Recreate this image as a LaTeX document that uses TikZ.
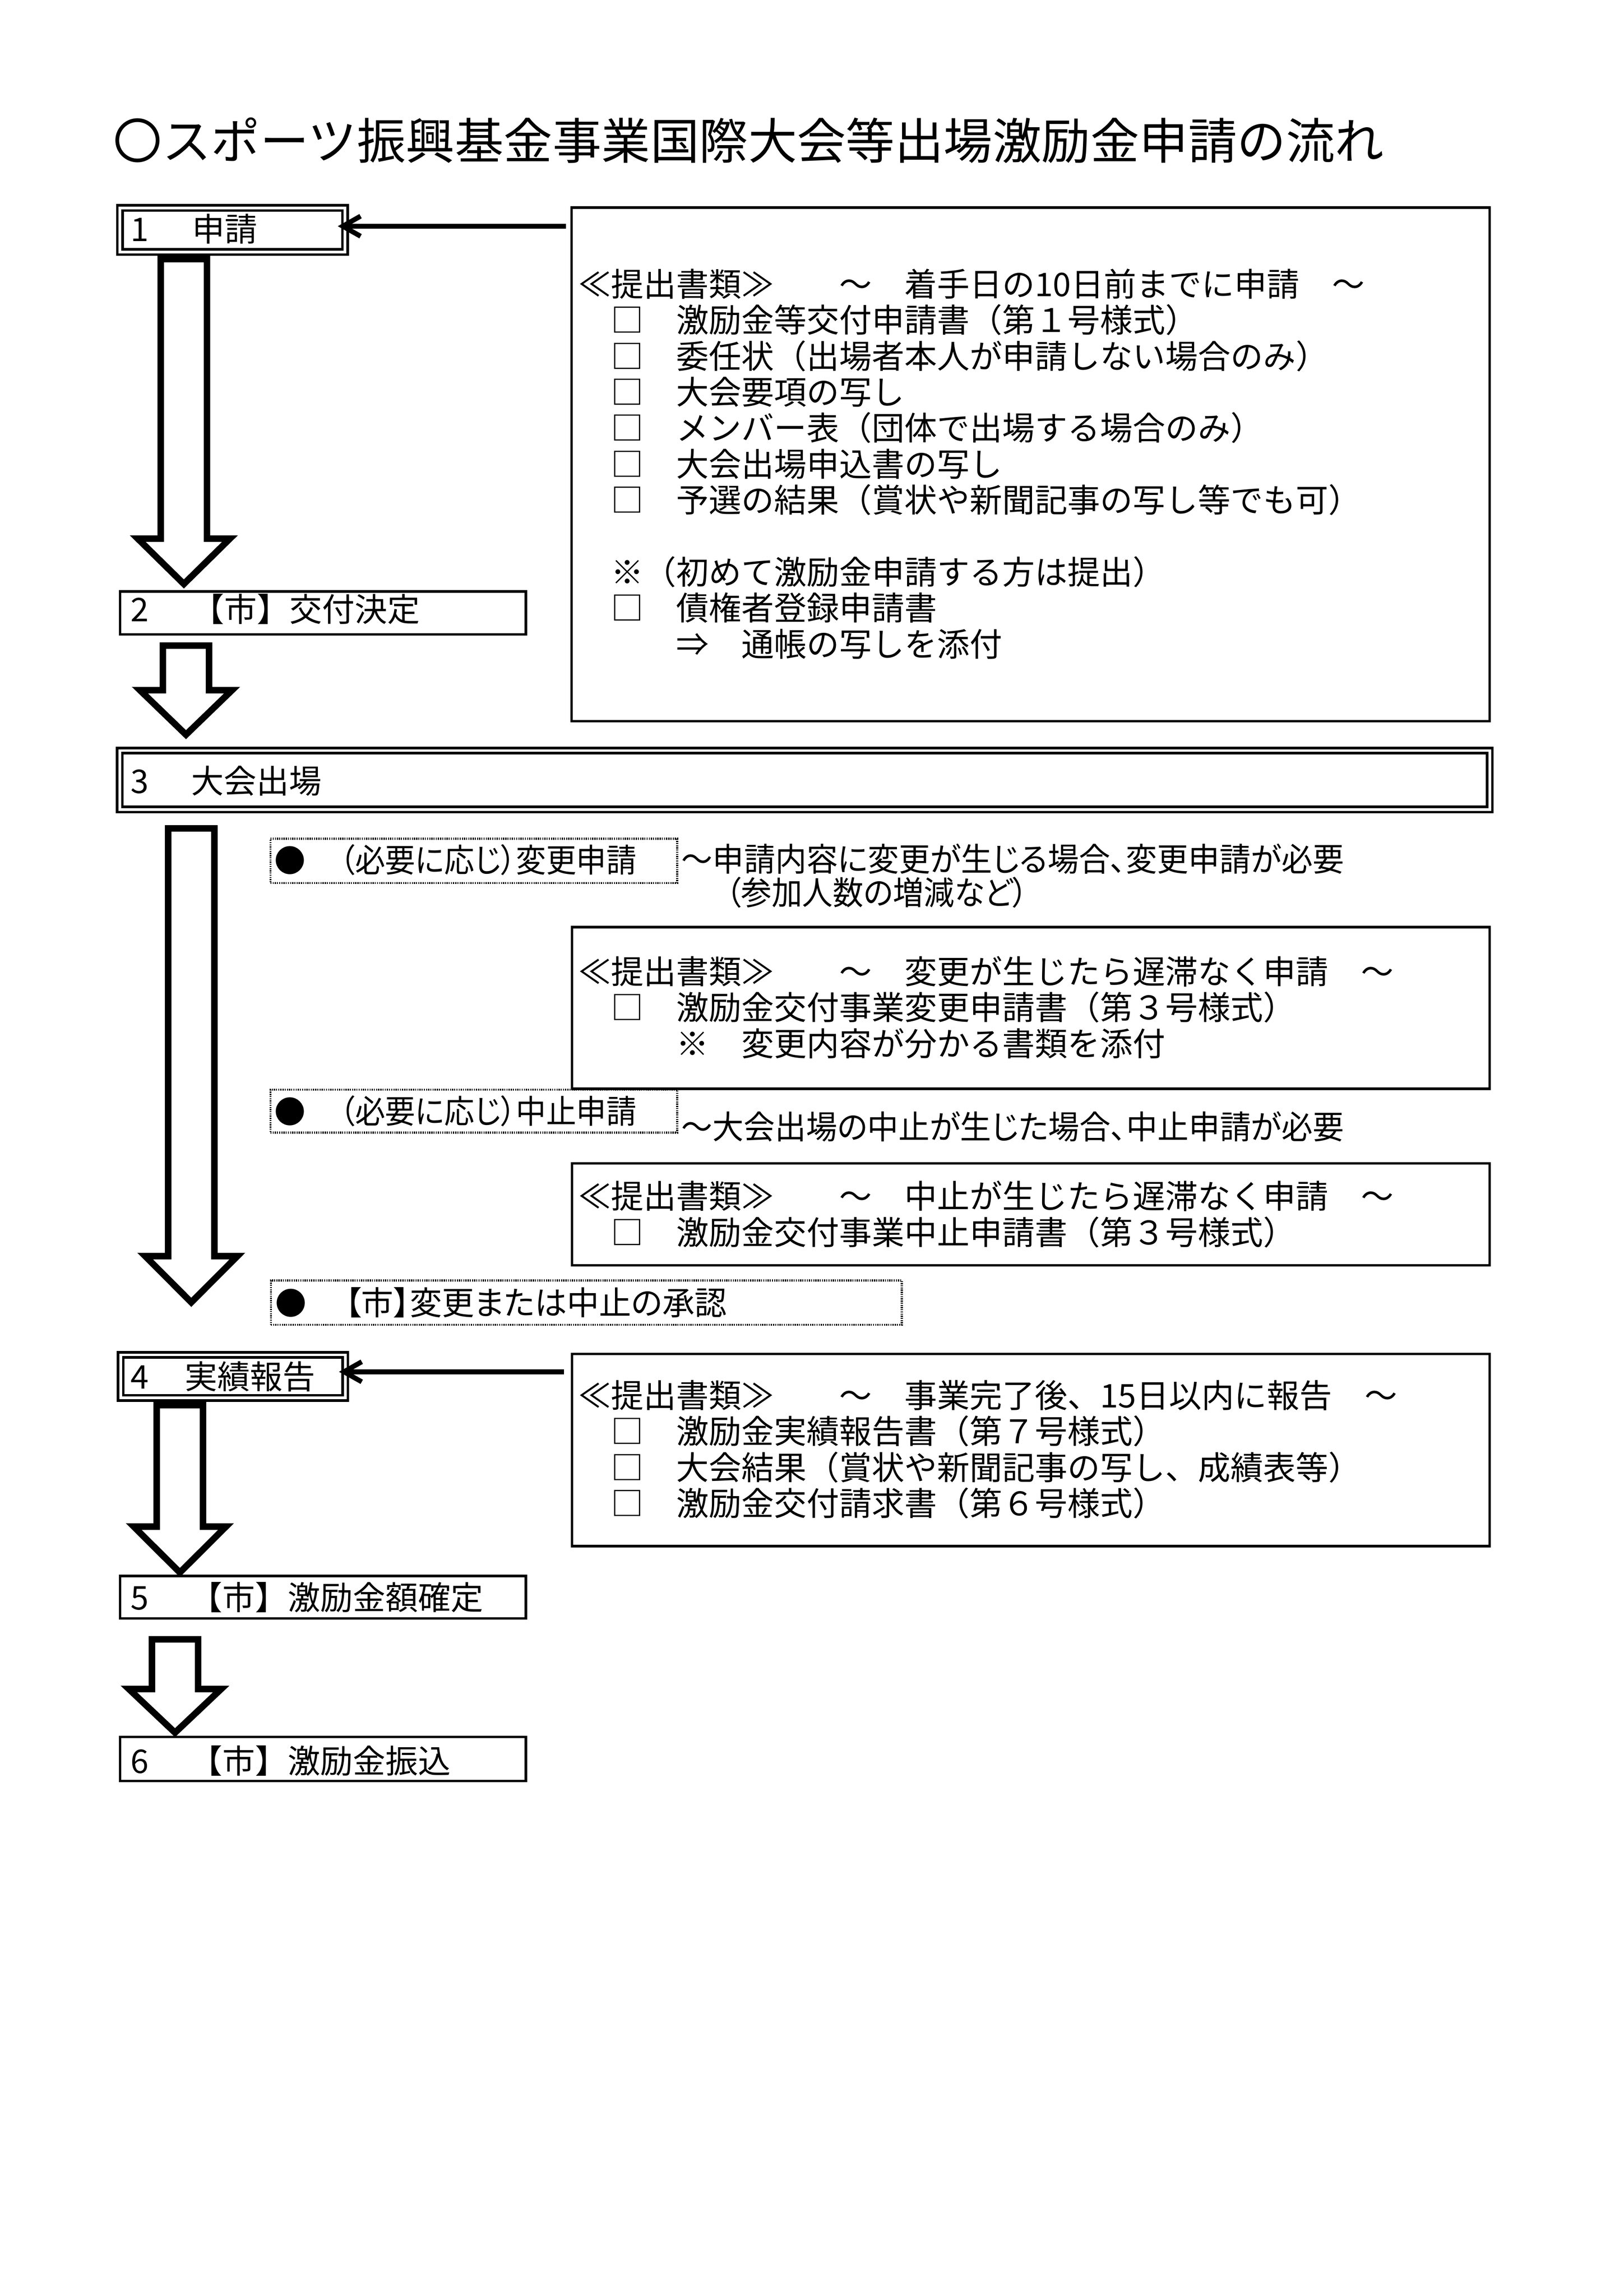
\documentclass[tikz,border=0pt]{standalone}
\usepackage{fontspec}
\usepackage{graphicx}
\setmainfont{Noto Sans CJK JP}
\newfontfamily\jpfont{Noto Sans CJK JP}
\newfontfamily\jppfont{Noto Sans CJK JP}[RawFeature=+palt]
\usetikzlibrary{arrows.meta,calc,fit}
\newcommand\blockarrow[4]{\draw[hollow] ({#1-15.7},#2) -- ({#1+15.7},#2) -- ({#1+15.7},#3) -- ({#1+31.3},#3) -- (#1,#4) -- ({#1-31.3},#3) -- ({#1-15.7},#3) -- cycle;}
\begin{document}
\begin{tikzpicture}[x=0.1904mm, y=-0.1904mm,
  sbox/.style={draw, line width=0.92pt, inner sep=0pt, outer sep=0pt},
  dbox/.style={draw, double, line width=0.92pt, double distance=1pt, inner sep=0pt, outer sep=0pt},
  dotbox/.style={draw, line width=0.8pt, dash pattern=on 0.4pt off 0.4pt, inner sep=0pt, outer sep=0pt},
  hollow/.style={draw, line width=2.4pt, line join=miter, miter limit=10},
  conn/.style={line width=1.8pt, -{Straight Barb[length=2.3mm,width=2.6mm]}},
  txt/.style={font=\jpfont\fontsize{12pt}{13.2pt}\selectfont, inner sep=0pt, outer sep=0pt, anchor=west, text height=10.56pt, text depth=1.44pt},
  ptxt/.style={txt, font=\jppfont\fontsize{12pt}{13.2pt}\selectfont},
  ttl/.style={txt, font=\jpfont\fontsize{18pt}{20pt}\selectfont, text height=15.84pt, text depth=2.16pt},
  dot/.style={txt, anchor=center, font=\jpfont\fontsize{11.5pt}{12pt}\selectfont}
]
\useasboundingbox (0,0) rectangle (1103,1560.1);

% title
\node[ttl] (title) at (77,95.5) {〇スポーツ振興基金事業国際大会等出場激励金申請の流れ};

% flow boxes
\node[dbox, fit={(81.5,141.3) (234.4,171.2)}] (s1) {};
\node[sbox, fit={(81.6,401.9) (357.3,431.1)}] (s2) {};
\node[dbox, fit={(81.4,510) (1012.1,550)}] (s3) {};
\node[dbox, fit={(82,920.6) (234.6,949.9)}] (s4) {};
\node[sbox, fit={(81.6,1070.9) (357.3,1099.7)}] (s5) {};
\node[sbox, fit={(81.6,1180.2) (357.3,1210.1)}] (s6) {};

\node[txt] (s1t) at (88.8,155.5) {\makebox[7.94mm][l]{1}申請};
\node[txt] (s2t) at (88.8,414) {\makebox[7.90mm][l]{2}【市】交付決定};
\node[txt] (s3t) at (88.8,530.5) {\makebox[7.84mm][l]{3}大会出場};
\node[txt] (s4t) at (88.8,935.4) {\makebox[6.99mm][l]{4}実績報告};
\node[txt] (s5t) at (88.8,1085.2) {\makebox[7.65mm][l]{5}【市】激励金額確定};
\node[txt] (s6t) at (88.8,1196.3) {\makebox[7.65mm][l]{6}【市】激励金振込};

% document boxes
\node[sbox, fit={(388.3,141) (1012.1,490)}] (A) {};
\node[sbox, fit={(388.7,629.9) (1012.1,739.8)}] (B) {};
\node[sbox, fit={(388.7,790.5) (1012.1,859.7)}] (C) {};
\node[sbox, fit={(388.7,920) (1012.1,1050.5)}] (D) {};

\node[txt] (a1) at (393,193) {≪提出書類≫　　～　着手日の10日前までに申請　～};
\node[txt] (a2) at (393,217.45) {　□　激励金等交付申請書（第１号様式）};
\node[txt] (a3) at (393,241.9) {　□　委任状（出場者本人が申請しない場合のみ）};
\node[txt] (a4) at (393,266.35) {　□　大会要項の写し};
\node[txt] (a5) at (393,290.8) {　□　メンバー表（団体で出場する場合のみ）};
\node[txt] (a6) at (393,315.25) {　□　大会出場申込書の写し};
\node[txt] (a7) at (393,339.7) {　□　予選の結果（賞状や新聞記事の写し等でも可）};
\node[txt] (a8) at (393,388.6) {　※（初めて激励金申請する方は提出）};
\node[txt] (a9) at (393,413.05) {　□　債権者登録申請書};
\node[txt] (a10) at (393,437.5) {　　　⇒　通帳の写しを添付};

\node[txt] (b1) at (393,660) {≪提出書類≫　　～　変更が生じたら遅滞なく申請　～};
\node[txt] (b2) at (393,684.5) {　□　激励金交付事業変更申請書（第３号様式）};
\node[txt] (b3) at (393,709) {　　　※　変更内容が分かる書類を添付};

\node[txt] (c1) at (393,812.7) {≪提出書類≫　　～　中止が生じたら遅滞なく申請　～};
\node[txt] (c2) at (393,837.2) {　□　激励金交付事業中止申請書（第３号様式）};

\node[txt] (d1) at (393,948) {≪提出書類≫　　～　事業完了後、15日以内に報告　～};
\node[txt] (d2) at (393,972.5) {　□　激励金実績報告書（第７号様式）};
\node[txt] (d3) at (393,997) {　□　大会結果（賞状や新聞記事の写し、成績表等）};
\node[txt] (d4) at (393,1021.5) {　□　激励金交付請求書（第６号様式）};

% dotted boxes
\node[dotbox, fit={(183.75,570) (460.05,600)}] (h1) {};
\node[dotbox, fit={(183.75,740.4) (460.05,769.7)}] (h2) {};
\node[dotbox, fit={(184.05,870.1) (612.75,900.2)}] (h3) {};

\node[dot] (h1b) at (197.2,584.4) {●};
\node[ptxt] (h1t) at (231,584.4) {\resizebox{38.37mm}{\height}{（必要に応じ）変更申請}};
\node[dot] (h2b) at (197.2,755) {●};
\node[ptxt] (h2t) at (231,755) {\resizebox{38.37mm}{\height}{（必要に応じ）中止申請}};
\node[dot] (h3b) at (197.7,885) {●};
\node[ptxt] (h3t) at (234.5,885) {\resizebox{49.4mm}{\height}{【市】変更または中止の承認}};

\node[ptxt] (n1) at (463,583.6) {\resizebox{85.68mm}{\height}{～申請内容に変更が生じる場合、変更申請が必要}};
\node[ptxt] (n2) at (493,606.3) {\resizebox{39.13mm}{\height}{（参加人数の増減など）}};
\node[ptxt] (n3) at (463,765.4) {\resizebox{85.68mm}{\height}{～大会出場の中止が生じた場合、中止申請が必要}};

% block arrows
\blockarrow{124.9}{176.05}{366}{396.8}
\blockarrow{126.35}{438.65}{468.95}{499.2}
\blockarrow{129.95}{562.85}{853.5}{884.9}
\blockarrow{122.2}{954.8}{1037.3}{1068.5}
\blockarrow{118.9}{1113.9}{1147.7}{1177.3}

% connectors
\draw[conn] ($(A.north west)+(-3.8,12.7)$) -- ($(s1.east)+(-4.9,-2.55)$);
\draw[conn] ($(D.north west)+(-5.7,12.1)$) -- ($(s4.east)+(-4.3,-3.15)$);
\end{tikzpicture}
\end{document}
